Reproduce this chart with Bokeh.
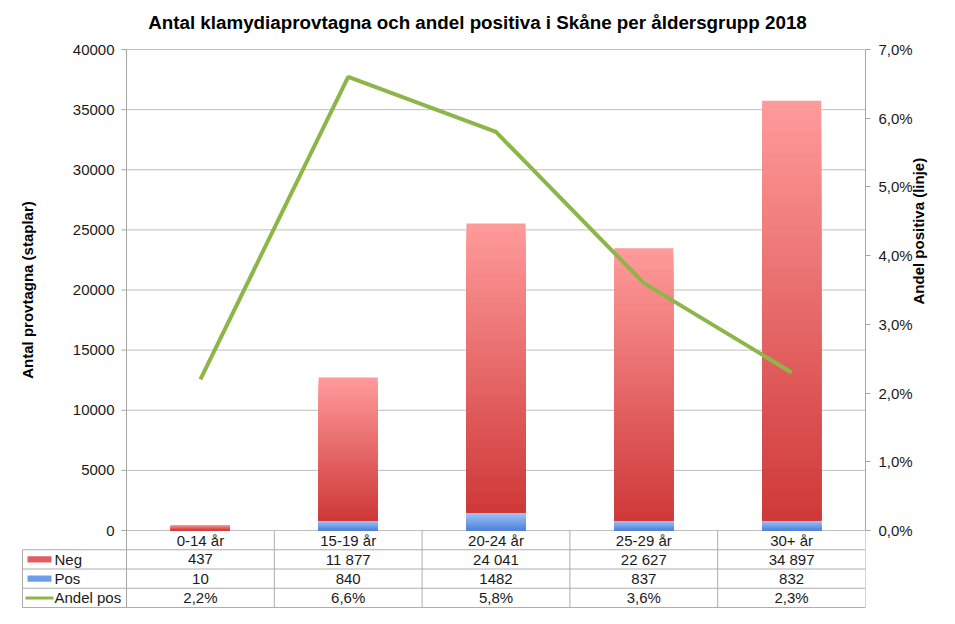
import math
import numpy as np
from bokeh.plotting import figure
from bokeh.models import (Range1d, LinearAxis, FixedTicker, CustomJSTickFormatter,
                          ColumnDataSource)
from bokeh.embed import file_html
from bokeh.resources import INLINE
from bokeh.core.properties import value

# ---------------- data ----------------
categories = ["0-14 år", "15-19 år", "20-24 år", "25-29 år", "30+ år"]
neg = [437, 11877, 24041, 22627, 34897]
pos = [10, 840, 1482, 837, 832]
andel = [2.2, 6.6, 5.8, 3.6, 2.3]          # percent
left_ticks = [0, 5000, 10000, 15000, 20000, 25000, 30000, 35000, 40000]
right_ticks = [0, 1, 2, 3, 4, 5, 6, 7]      # percent
row_labels = ["Neg", "Pos", "Andel pos"]
title_text = "Antal klamydiaprovtagna och andel positiva i Skåne per åldersgrupp 2018"
left_title = "Antal provtagna (staplar)"
right_title = "Andel positiva (linje)"

# ---------------- style / layout ----------------
FONT = "Liberation Sans"
TXT = "#1a1a1a"
GRID = "#BFBFBF"
AXIS = "#A6A6A6"
TLINE = "#ADADAD"
RED_TOP, RED_BOT = (255, 155, 155), (207, 56, 56)
BLUE_TOP, BLUE_BOT = (162, 198, 248), (78, 128, 216)
RED_KEY, BLUE_KEY = "#E35E60", "#6C9DE8"
GREEN = "#8DB548"

W, H = 939, 608
AX_L = 126            # px of the left value axis (category 0 edge)
FR_R = 865            # px of right frame edge / right axis
CELL = (FR_R - AX_L) / 5.0
Y0, Y40 = 530, 49     # px rows of value 0 and 40000
ROW = 19.25           # table row height in px

n = len(categories)
xc = np.arange(n) + 0.5
BAR_W = 0.4
NB = 40
PX = 40000.0 / (Y0 - Y40)
PX7 = 7.0 / (Y0 - Y40)


def xd(px):
    return (px - AX_L) / CELL


def yd(py):
    return (Y0 - py) * PX


def mix(c_bot, c_top, t):
    r, g, b = (int(round(c_bot[i] + (c_top[i] - c_bot[i]) * t)) for i in range(3))
    return "#%02x%02x%02x" % (r, g, b)


def gradient_bars(bases, heights, c_bot, c_top):
    L, R, B, T, C = [], [], [], [], []
    for k in range(NB - 1, -1, -1):
        tt = (k + 0.5) / NB
        for i in range(n):
            L.append(xc[i] - BAR_W / 2)
            R.append(xc[i] + BAR_W / 2)
            B.append(bases[i])
            T.append(bases[i] + heights[i] * (k + 1) / NB)
            C.append(mix(c_bot, c_top, tt))
    return ColumnDataSource(dict(left=L, right=R, bottom=B, top=T, color=C))


p = figure(width=W, height=H, output_backend="svg", toolbar_location=None,
           x_range=Range1d(xd(0), xd(FR_R)),
           y_range=Range1d(yd(H), yd(0)),
           x_axis_location=None, y_axis_location=None,
           min_border_left=0, min_border_right=W - FR_R, min_border_top=0,
           min_border_bottom=0)
p.outline_line_color = None
p.xgrid.grid_line_color = None
p.ygrid.grid_line_color = None
p.extra_y_ranges = {"pct": Range1d((Y0 - H) * PX7, Y0 * PX7)}

# ---------------- right value axis (real axis) ----------------
ra = LinearAxis(y_range_name="pct", ticker=FixedTicker(ticks=right_ticks),
                bounds=(right_ticks[0], right_ticks[-1]),
                formatter=CustomJSTickFormatter(
                    code="return tick.toFixed(1).replace('.', ',') + '%';"))
ra.axis_label = right_title
ra.axis_label_standoff = 3
ra.major_label_standoff = 8
try:
    ra.axis_label_orientation = math.pi / 2
except Exception:
    pass
ra.axis_line_color = AXIS
ra.major_tick_line_color = AXIS
ra.major_tick_out = 5
ra.major_tick_in = 0
ra.minor_tick_line_color = None
ra.major_label_text_font = FONT
ra.major_label_text_font_size = "15px"
ra.major_label_text_color = TXT
ra.axis_label_text_font = FONT
ra.axis_label_text_font_size = "15px"
ra.axis_label_text_font_style = "bold"
ra.axis_label_text_color = "#000000"
p.add_layout(ra, "right")

# ---------------- horizontal grid + left value scale ----------------
nt = len(left_ticks)
p.segment(x0=[0] * nt, y0=left_ticks, x1=[n] * nt, y1=left_ticks,
          line_color=GRID, line_width=1)
p.segment(x0=[xd(AX_L - 5)] * nt, y0=left_ticks, x1=[0] * nt, y1=left_ticks,
          line_color=AXIS, line_width=1)
p.text(x=[xd(AX_L - 12)] * nt, y=left_ticks, text=[str(t) for t in left_ticks],
       text_align="right", text_baseline="middle", text_font=value(FONT),
       text_font_size="15px", text_color=TXT)
p.text(x=[xd(27)], y=[(left_ticks[0] + left_ticks[-1]) / 2], text=[left_title],
       angle=math.pi / 2, text_align="center", text_baseline="middle",
       text_font=value(FONT), text_font_size="15px", text_font_style="bold",
       text_color="#000000")

# ---------------- title ----------------
p.text(x=[xd(477)], y=[yd(22)], text=[title_text], text_align="center",
       text_baseline="middle", text_font=value(FONT), text_font_size="18.8px",
       text_font_style="bold", text_color="#000000")

# ---------------- bars and line ----------------
zeros = [0] * n
p.quad(left="left", right="right", bottom="bottom", top="top", color="color",
       line_color=None, source=gradient_bars(zeros, pos, BLUE_BOT, BLUE_TOP))
p.quad(left="left", right="right", bottom="bottom", top="top", color="color",
       line_color=None, source=gradient_bars(pos, neg, RED_BOT, RED_TOP))
p.line(xc, andel, y_range_name="pct", line_color=GREEN, line_width=4)

# ---------------- data table ----------------
yb = [yd(Y0 + k * ROW) for k in range(5)]          # row boundaries
yc = [yd(Y0 + (k + 0.5) * ROW) for k in range(4)]  # row centres
xl = xd(22)

# horizontal table lines (row 0 top is the zero grid line)
p.segment(x0=[xl] * 4, y0=yb[1:], x1=[n] * 4, y1=yb[1:], line_color=TLINE,
          line_width=1)
# vertical table lines
p.segment(x0=[xl], y0=[yb[1]], x1=[xl], y1=[yb[4]], line_color=TLINE, line_width=1)
p.segment(x0=list(range(1, n + 1)), y0=[yb[0]] * n, x1=list(range(1, n + 1)),
          y1=[yb[4]] * n, line_color=TLINE, line_width=1)
# left value axis line continuing as the table border
p.segment(x0=[0], y0=[yb[4]], x1=[0], y1=[left_ticks[-1]], line_color=AXIS,
          line_width=1)

neg_txt = ["{:,}".format(v).replace(",", " ") for v in neg]
pos_txt = [str(v) for v in pos]
andel_txt = [("%.1f" % v).replace(".", ",") + "%" for v in andel]

for row_y, texts in zip(yc, (categories, neg_txt, pos_txt, andel_txt)):
    p.text(x=xc, y=[row_y] * n, text=texts, text_align="center",
           text_baseline="middle", text_font=value(FONT),
           text_font_size="15px", text_color=TXT)

# first column: keys and row names
p.text(x=[xd(54)] * 3, y=yc[1:], text=row_labels, text_align="left",
       text_baseline="middle", text_font=value(FONT), text_font_size="15px",
       text_color=TXT)
hk = 3.2 * PX
p.quad(left=[xd(27)] * 2, right=[xd(51)] * 2, bottom=[yc[1] - hk, yc[2] - hk],
       top=[yc[1] + hk, yc[2] + hk], fill_color=[RED_KEY, BLUE_KEY], line_color=None)
p.segment(x0=[xd(25)], y0=[yc[3]], x1=[xd(53)], y1=[yc[3]], line_color=GREEN,
          line_width=3)

open("out.html", "w").write(file_html(p, INLINE))
